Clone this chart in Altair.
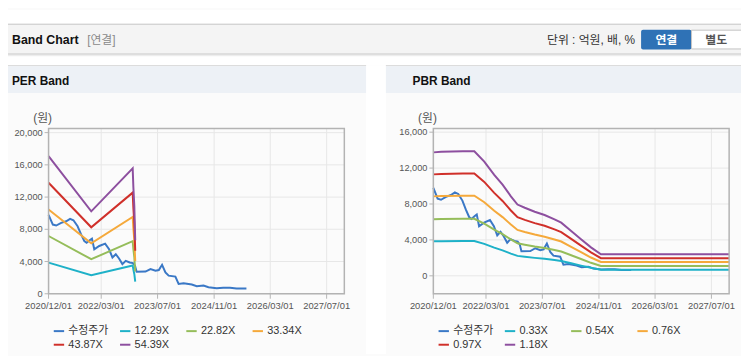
import altair as alt
import pandas as pd

W, H = 741, 348

# ---------------- data ----------------
price_dates = ["2020-12-01", "2021-01-07", "2021-02-05", "2021-03-20", "2021-05-02", "2021-06-05",
               "2021-07-04", "2021-08-09", "2021-09-08", "2021-10-06", "2021-10-26", "2021-11-24",
               "2021-12-11", "2021-12-31", "2022-02-12", "2022-04-04", "2022-05-08", "2022-06-06",
               "2022-07-05", "2022-08-02", "2022-08-31", "2022-09-29", "2022-11-02", "2022-11-30",
               "2022-12-18", "2023-01-01", "2023-03-19", "2023-05-01", "2023-06-13", "2023-07-12",
               "2023-08-09", "2023-09-07", "2023-10-05", "2023-12-02", "2023-12-30", "2024-02-11",
               "2024-04-22", "2024-06-04", "2024-08-01", "2024-09-13", "2024-11-23", "2025-01-19",
               "2025-03-18", "2025-05-14", "2025-08-07"]
price_values = [9800, 8590, 8470, 8800, 9000, 9290, 9120, 8380, 7370, 6550, 6340, 6670,
                6840, 5520, 5930, 6220, 5520, 4500, 4910, 4380, 3680, 4090, 3890, 3800,
                3480, 2740, 2760, 3070, 2860, 2950, 3600, 2660, 2250, 2130, 1230, 1310,
                1150, 950, 1020, 820, 700, 740, 740, 650, 650]

per_dates = ["2020-12-01", "2021-12-05", "2022-11-28", "2022-12-04", "2022-12-12", "2022-12-20"]
per_12_29 = [3860, 2310, 3520, 2990, 2460, 1500]
per_22_82 = [7170, 4290, 6530, 5550, 4560, 2780]
per_33_34 = [10470, 6270, 9540, 8100, 6670, 4070]
per_43_87 = [13780, 8250, 12550, 10660, 8770, 5350]
per_54_39 = [17080, 10230, 15560, 13220, 10880, 6640]

pbr_dates = ["2020-12-01", "2021-02-08", "2021-08-13", "2021-11-20", "2022-02-14", "2022-05-11",
             "2022-07-22", "2022-10-02", "2022-11-28", "2023-01-30", "2023-04-26", "2023-07-20",
             "2023-10-14", "2023-12-11", "2024-03-06", "2024-05-30", "2024-08-24", "2024-11-18",
             "2027-12-01"]
pbr_0_33 = [3840, 3860, 3880, 3880, 3560, 3140, 2840, 2480, 2220, 2120, 2000, 1890, 1760, 1660,
            1400, 1140, 890, 670, 670]
pbr_0_54 = [6290, 6320, 6350, 6350, 5820, 5150, 4640, 4060, 3630, 3470, 3270, 3100, 2880, 2710,
            2290, 1870, 1450, 1100, 1100]
pbr_0_76 = [8850, 8890, 8930, 8930, 8190, 7240, 6540, 5710, 5110, 4880, 4600, 4360, 4050, 3820,
            3220, 2630, 2040, 1540, 1540]
pbr_0_97 = [11300, 11350, 11400, 11400, 10460, 9240, 8340, 7280, 6530, 6230, 5870, 5570, 5170, 4870,
            4110, 3360, 2610, 1970, 1970]
pbr_1_18 = [13750, 13810, 13870, 13870, 12720, 11250, 10150, 8860, 7940, 7580, 7140, 6770, 6290, 5920,
            5000, 4080, 3170, 2400, 2400]

per_names = ["수정주가", "12.29X", "22.82X", "33.34X", "43.87X", "54.39X"]
pbr_names = ["수정주가", "0.33X", "0.54X", "0.76X", "0.97X", "1.18X"]
series_colors = ["#3a78c6", "#1eb1c8", "#95bd5a", "#f5a93b", "#d0302a", "#8d4f9f"]

x_tick_dates = ["2020-12-01", "2022-03-01", "2023-07-01", "2024-11-01", "2026-03-01", "2027-07-01"]
x_tick_labels = ["2020/12/01", "2022/03/01", "2023/07/01", "2024/11/01", "2026/03/01", "2027/07/01"]
x_domain = ["2020-12-01", "2027-12-01"]
per_y_ticks = [0, 4000, 8000, 12000, 16000, 20000]
per_y_labels = ["0", "4,000", "8,000", "12,000", "16,000", "20,000"]
per_y_domain = [0, 20500]
pbr_y_ticks = [0, 4000, 8000, 12000, 16000]
pbr_y_labels = ["0", "4,000", "8,000", "12,000", "16,000"]
pbr_y_domain = [-2000, 16400]

FONT = "Liberation Sans, Noto Sans CJK KR"

# plot area placement (canvas pixels)
PER_X = [41, 340]
PBR_X = [430, 729]
PLOT_Y = [287, 120]


def long_df(names, dates_list, values_list):
    rows = []
    for n, ds, vs in zip(names, dates_list, values_list):
        for d, v in zip(ds, vs):
            rows.append({"series": n, "date": d, "value": v})
    return pd.DataFrame(rows)


per_df = long_df(per_names,
                 [price_dates] + [per_dates] * 5,
                 [price_values, per_12_29, per_22_82, per_33_34, per_43_87, per_54_39])
pbr_df = long_df(pbr_names,
                 [price_dates] + [pbr_dates] * 5,
                 [price_values, pbr_0_33, pbr_0_54, pbr_0_76, pbr_0_97, pbr_1_18])


def panel(df, names, xr, y_domain, y_ticks, y_labels, legend_x):
    vgrid = pd.DataFrame({"date": x_tick_dates, "lab": x_tick_labels,
                          "lo": y_domain[0], "hi": y_domain[1]})
    hgrid = pd.DataFrame({"val": y_ticks, "lab": y_labels, "a": x_domain[0], "b": x_domain[1]})
    frame = pd.DataFrame({"a": [x_domain[0]], "b": [x_domain[1]],
                          "lo": [y_domain[0]], "hi": [y_domain[1]]})

    xs = alt.Scale(domain=x_domain, range=xr, nice=False)
    ys = alt.Scale(domain=y_domain, range=PLOT_Y, nice=False, zero=False)
    X = lambda f: alt.X(f, scale=xs, axis=None)
    Y = lambda f: alt.Y(f, scale=ys, axis=None)

    v = alt.Chart(vgrid).mark_rule(color="#e7e7e7", strokeWidth=1).encode(
        x=X("date:T"), y=Y("lo:Q"), y2="hi:Q")
    h = alt.Chart(hgrid).mark_rule(color="#e7e7e7", strokeWidth=1).encode(
        y=Y("val:Q"), x=X("a:T"), x2="b:T")
    xt = alt.Chart(vgrid).mark_rule(color="#b5b5b5", strokeWidth=1).encode(
        x=X("date:T"), y=alt.value(PLOT_Y[0]), y2=alt.value(PLOT_Y[0] + 5))
    yt = alt.Chart(hgrid).mark_rule(color="#b5b5b5", strokeWidth=1).encode(
        y=Y("val:Q"), x=alt.value(xr[0] - 4), x2=alt.value(xr[0]))
    xl = alt.Chart(vgrid).mark_text(font=FONT, fontSize=9.5, color="#555555",
                                    align="center", baseline="middle").encode(
        x=X("date:T"), y=alt.value(PLOT_Y[0] + 12), text="lab:N")
    yl = alt.Chart(hgrid).mark_text(font=FONT, fontSize=9.3, color="#555555",
                                    align="right", baseline="middle").encode(
        y=Y("val:Q"), x=alt.value(xr[0] - 6), text="lab:N")
    lines = alt.Chart(df).mark_line(strokeWidth=2).encode(
        x=X("date:T"),
        y=Y("value:Q"),
        color=alt.Color("series:N", sort=names,
                        scale=alt.Scale(domain=names, range=series_colors),
                        legend=alt.Legend(orient="none", legendX=legend_x, legendY=318,
                                          direction="horizontal", columns=4,
                                          gridAlign="all", columnPadding=7, rowPadding=2,
                                          symbolType="stroke", symbolSize=110,
                                          symbolStrokeWidth=2, labelFont=FONT,
                                          labelFontSize=11, labelColor="#333333",
                                          labelOffset=3, padding=0, title=None)),
    )
    fr = alt.Chart(frame).mark_rect(filled=False, stroke="#b3b3b3", strokeWidth=1.5).encode(
        x=X("a:T"), x2="b:T", y=Y("lo:Q"), y2="hi:Q")
    return alt.layer(v, h, lines, fr, xt, yt, xl, yl)


one = pd.DataFrame({"k": [0]})


def box(x0, x1, y0, y1, fill, stroke=None, **kw):
    props = dict(fill=fill)
    if stroke:
        props["stroke"] = stroke
        props["strokeWidth"] = 1
    props.update(kw)
    return alt.Chart(one).mark_rect(**props).encode(
        x=alt.value(x0), x2=alt.value(x1), y=alt.value(y0), y2=alt.value(y1))


def label(x, y, txt, size=12, weight="normal", color="#333333", align="left"):
    return alt.Chart(one).mark_text(text=txt, font=FONT, fontSize=size, fontWeight=weight,
                                    color=color, align=align, baseline="middle").encode(
        x=alt.value(x), y=alt.value(y))


decor = [
    box(0, W, 0, 56, "#ffffff"),
    box(362, 382, 56, H, "#ffffff"),
    box(0, W, 14, 15, "#b9b9b9"),
    box(0, W, 15, 44, "#f4f4f4"),
    box(0, W, 44, 45, "#c4c4c4"),
    box(0, W, 45, 46, "#dcdcdc"),
    box(0, W, 46, 47, "#eeeeee"),
    box(0, 362, 56, 57, "#d2d2d2"),
    box(382, W, 56, 57, "#d2d2d2"),
    box(0, 362, 57, 84, "#edf1f6"),
    box(382, W, 57, 84, "#edf1f6"),
    box(640, 691, 20, 40, "#2f72b6", cornerRadius=2),
    box(691, W + 4, 20.5, 39.5, "#ffffff", stroke="#c2c2c2"),
]

texts = [
    label(4, 30, "Band Chart", size=12.5, weight="bold", color="#111111"),
    label(80, 30, "[연결]", size=12, color="#8a8a8a"),
    label(634, 30, "단위 : 억원, 배, %", size=12, color="#333333", align="right"),
    label(665.5, 30, "연결", size=12, weight="bold", color="#ffffff", align="center"),
    label(716, 30, "별도", size=12, weight="bold", color="#555555", align="center"),
    label(4, 72, "PER Band", size=12, weight="bold", color="#111111"),
    label(409, 72, "PBR Band", size=12, weight="bold", color="#111111"),
    label(35, 109, "(원)", size=12, color="#555555", align="center"),
    label(424, 109, "(원)", size=12, color="#555555", align="center"),
]

per_panel = panel(per_df, per_names, PER_X, per_y_domain, per_y_ticks, per_y_labels, 45)
pbr_panel = panel(pbr_df, pbr_names, PBR_X, pbr_y_domain, pbr_y_ticks, pbr_y_labels, 434)

chart = alt.layer(*decor, per_panel, pbr_panel, *texts).resolve_scale(
    x="independent", y="independent", color="independent"
).properties(
    width=W, height=H, autosize=alt.AutoSizeParams(type="none"), padding=0,
    background="#fbfbfb"
).configure_view(stroke=None)

chart.save("out.html", embed_options={"renderer": "svg", "actions": False})
